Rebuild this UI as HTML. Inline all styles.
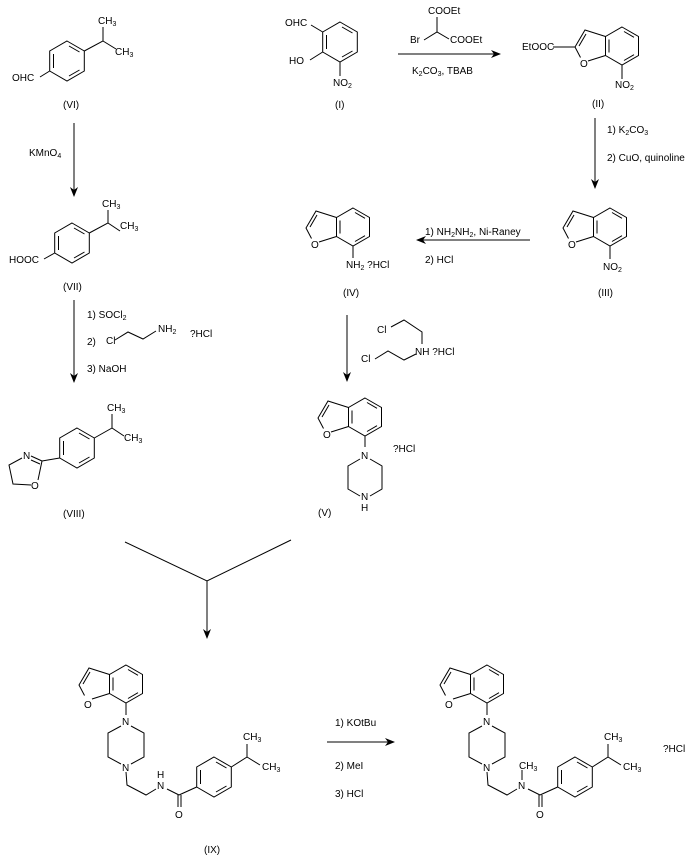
<!DOCTYPE html>
<html><head><meta charset="utf-8"><style>
html,body{margin:0;padding:0;background:#fff}
svg{display:block}
text{font-family:"Liberation Sans",Arial,sans-serif;font-size:10px;fill:#000}
.s{font-size:7px}
</style></head><body>
<svg width="689" height="857" viewBox="0 0 689 857" xmlns="http://www.w3.org/2000/svg">
<defs>
<marker id="ah" markerWidth="10" markerHeight="8" refX="9" refY="4" orient="auto" markerUnits="userSpaceOnUse">
<path d="M0,0 L10,4 L0,8 L3,4 Z" fill="#000"/>
</marker>
<g id="bz" fill="none" stroke="#000" stroke-width="1">
<polygon points="0,-20 17.3,-10 17.3,10 0,20 -17.3,10 -17.3,-10"/>
<line x1="-13.5" y1="-7" x2="-13.5" y2="7"/>
<line x1="2" y1="-15" x2="12.5" y2="-9"/>
<line x1="12.5" y1="9" x2="2" y2="15"/>
</g>
<g id="bf" fill="none" stroke="#000" stroke-width="1">
<polygon points="0,-19 16.5,-9.5 16.5,9.5 0,19 -16.5,9.5 -16.5,-9.5"/>
<line x1="-13" y1="-6.5" x2="-13" y2="6.5"/>
<line x1="2" y1="-14.5" x2="12" y2="-8.7"/>
<line x1="12" y1="8.7" x2="2" y2="14.5"/>
<polyline points="-16.5,-9.5 -37,-16 -47,1 -41.5,11.5"/>
<line x1="-34" y1="15" x2="-16.5" y2="9.5"/>
<line x1="-36" y1="-12" x2="-43" y2="0"/>
</g>
</defs>

<g stroke="#000" stroke-width="1" fill="none">
<!-- VI -->
<use href="#bz" x="67" y="61"/>
<polyline points="84.3,51 103,41 103,27"/>
<line x1="103" y1="41" x2="116" y2="49"/>
<line x1="49.7" y1="71" x2="40" y2="77"/>
<!-- arrow VI->VII -->
<line x1="74" y1="123" x2="74" y2="196" marker-end="url(#ah)"/>
<!-- VII -->
<use href="#bz" x="72" y="243"/>
<polyline points="89.3,233 108,223 108,210"/>
<line x1="108" y1="223" x2="120" y2="231"/>
<line x1="54.7" y1="253" x2="44" y2="259"/>
<!-- arrow VII->VIII -->
<line x1="74" y1="300" x2="74" y2="382" marker-end="url(#ah)"/>
<polyline points="115,340 128,332 143,339 156,331"/>
<!-- VIII -->
<use href="#bz" x="77" y="448"/>
<polyline points="94.3,438 112,428 112,414"/>
<line x1="112" y1="428" x2="124" y2="436"/>
<line x1="59.7" y1="458" x2="42" y2="461"/>
<line x1="42" y1="461" x2="31" y2="456"/>
<line x1="40" y1="464" x2="31" y2="460"/>
<polyline points="22,458 9,465 13,484 31,485"/>
<line x1="38" y1="480" x2="42" y2="461"/>
<!-- I -->
<use href="#bz" x="340" y="42"/>
<line x1="322.7" y1="32" x2="311" y2="25"/>
<line x1="322.7" y1="52" x2="310" y2="60"/>
<line x1="340" y1="62" x2="340" y2="76"/>
<!-- arrow I->II -->
<line x1="398" y1="54" x2="500" y2="54" marker-end="url(#ah)"/>
<polyline points="424,40 437,32 449,39"/>
<line x1="437" y1="32" x2="437" y2="17"/>
<!-- II -->
<use href="#bf" x="622" y="46"/>
<line x1="575" y1="47" x2="553" y2="47"/>
<line x1="622" y1="65" x2="622" y2="79"/>
<!-- arrow II->III -->
<line x1="595" y1="118" x2="595" y2="188" marker-end="url(#ah)"/>
<!-- III -->
<use href="#bf" x="610" y="227"/>
<line x1="610" y1="246" x2="610" y2="259"/>
<!-- arrow III->IV -->
<line x1="530" y1="240" x2="417" y2="240" marker-end="url(#ah)"/>
<!-- IV -->
<use href="#bf" x="353" y="227"/>
<line x1="353" y1="246" x2="353" y2="258"/>
<!-- arrow IV->V -->
<line x1="347" y1="315" x2="347" y2="381" marker-end="url(#ah)"/>
<polyline points="391,327 404,320 422,332 422,344"/>
<polyline points="375,359 388,351 404,360 416,354"/>
<!-- V -->
<use href="#bf" x="365" y="417"/>
<line x1="365" y1="436" x2="365" y2="447"/>
<polyline points="370,459 382,466 382,489 370,496"/>
<polyline points="360,459 348,466 348,489 360,496"/>
<!-- converge -->
<polyline points="125,542 207,581 291,540"/>
<line x1="207" y1="581" x2="207" y2="638" marker-end="url(#ah)"/>
<!-- IX -->
<g id="ix">
<use href="#bf" x="126" y="684"/>
<line x1="126" y1="703" x2="126" y2="715"/>
<polyline points="131,726 144,733 144,757 131,764"/>
<polyline points="121,726 108,733 108,757 121,764"/>
<polyline points="126,772 127,785 146,795 156,789"/>
<line x1="167" y1="789" x2="179" y2="795"/>
<line x1="179" y1="795" x2="196.7" y2="787"/>
<line x1="178" y1="795" x2="178" y2="807"/>
<line x1="181" y1="795" x2="181" y2="807"/>
<use href="#bz" x="214" y="777"/>
<polyline points="231.3,767 247,757 247,744"/>
<line x1="247" y1="757" x2="260" y2="765"/>
</g>
<use href="#ix" x="361" y="0"/>
<line x1="522" y1="780" x2="522" y2="770"/>
<!-- arrow IX->X -->
<line x1="327" y1="742" x2="394" y2="742" marker-end="url(#ah)"/>
</g>

<!-- texts -->
<text x="98" y="24">CH<tspan class="s" dy="2">3</tspan></text>
<text x="115" y="55">CH<tspan class="s" dy="2">3</tspan></text>
<text x="12" y="81">OHC</text>
<text x="63" y="108">(VI)</text>
<text x="29" y="156">KMnO<tspan class="s" dy="2">4</tspan></text>
<text x="102" y="207">CH<tspan class="s" dy="2">3</tspan></text>
<text x="120" y="229">CH<tspan class="s" dy="2">3</tspan></text>
<text x="9" y="263">HOOC</text>
<text x="63" y="290">(VII)</text>
<text x="87" y="318">1) SOCl<tspan class="s" dy="2">2</tspan></text>
<text x="87" y="345">2)</text>
<text x="106" y="344">Cl</text>
<text x="158" y="332">NH<tspan class="s" dy="2">2</tspan></text>
<text x="190" y="337">?HCl</text>
<text x="87" y="372">3) NaOH</text>
<text x="107" y="411">CH<tspan class="s" dy="2">3</tspan></text>
<text x="124" y="441">CH<tspan class="s" dy="2">3</tspan></text>
<text x="23" y="459">N</text>
<text x="31" y="489">O</text>
<text x="63" y="517">(VIII)</text>

<text x="285" y="26">OHC</text>
<text x="289" y="64">HO</text>
<text x="333" y="86">NO<tspan class="s" dy="2">2</tspan></text>
<text x="335" y="108">(I)</text>
<text x="428" y="14">COOEt</text>
<text x="410" y="43">Br</text>
<text x="450" y="43">COOEt</text>
<text x="412" y="74">K<tspan class="s" dy="2">2</tspan><tspan dy="-2">CO</tspan><tspan class="s" dy="2">3</tspan><tspan dy="-2">, TBAB</tspan></text>
<text x="522" y="50">EtOOC</text>
<text x="580" y="67">O</text>
<text x="615" y="88">NO<tspan class="s" dy="2">2</tspan></text>
<text x="592" y="107">(II)</text>
<text x="607" y="133">1) K<tspan class="s" dy="2">2</tspan><tspan dy="-2">CO</tspan><tspan class="s" dy="2">3</tspan></text>
<text x="607" y="161">2) CuO, quinoline</text>
<text x="568" y="248">O</text>
<text x="603" y="270">NO<tspan class="s" dy="2">2</tspan></text>
<text x="598" y="296">(III)</text>
<text x="425" y="235">1) NH<tspan class="s" dy="2">2</tspan><tspan dy="-2">NH</tspan><tspan class="s" dy="2">2</tspan><tspan dy="-2">, Ni-Raney</tspan></text>
<text x="425" y="263">2) HCl</text>
<text x="311" y="248">O</text>
<text x="346" y="268">NH<tspan class="s" dy="2">2</tspan><tspan dy="-2"> ?HCl</tspan></text>
<text x="343" y="296">(IV)</text>
<text x="377" y="333">Cl</text>
<text x="361" y="362">Cl</text>
<text x="415" y="355">NH ?HCl</text>
<text x="323" y="438">O</text>
<text x="361" y="459">N</text>
<text x="393" y="452">?HCl</text>
<text x="361" y="500">N</text>
<text x="361" y="511">H</text>
<text x="318" y="516">(V)</text>

<text x="84" y="708">O</text>
<text x="122" y="725">N</text>
<text x="122" y="771">N</text>
<text x="157" y="789">N</text>
<text x="157" y="778">H</text>
<text x="175" y="818">O</text>
<text x="243" y="740">CH<tspan class="s" dy="2">3</tspan></text>
<text x="262" y="770">CH<tspan class="s" dy="2">3</tspan></text>
<text x="204" y="853">(IX)</text>
<text x="335" y="726">1) KOtBu</text>
<text x="335" y="769">2) MeI</text>
<text x="335" y="797">3) HCl</text>

<text x="445" y="708">O</text>
<text x="483" y="725">N</text>
<text x="483" y="771">N</text>
<text x="518" y="789">N</text>
<text x="519" y="769">CH<tspan class="s" dy="2">3</tspan></text>
<text x="536" y="818">O</text>
<text x="604" y="740">CH<tspan class="s" dy="2">3</tspan></text>
<text x="623" y="770">CH<tspan class="s" dy="2">3</tspan></text>
<text x="663" y="752">?HCl</text>
</svg>
</body></html>
